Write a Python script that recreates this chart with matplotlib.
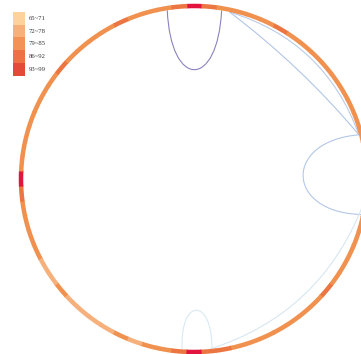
import numpy as np
import matplotlib
matplotlib.use("Agg")
import matplotlib.pyplot as plt
from matplotlib.patches import Wedge, Rectangle, PathPatch
from matplotlib.path import Path

# ---- data -------------------------------------------------------------
bin_labels = ["65~71", "72~78", "79~85", "86~92", "93~99"]
bin_edges = [65, 72, 79, 86, 93, 100]
legend_colors = ["#fdd29c", "#f8b07a", "#f39257", "#ee7145", "#e44a38"]
ring_colors = ["#fdd29c", "#f6b07c", "#f1914f", "#ec7642", "#e2153e"]

# ring values, one per 5-degree sector centred on 0, 5, 10 ... (clockwise from top)
ring_values = [
    96, 88, 84, 83, 85, 83, 86, 84, 83, 85, 84, 83,      # 0-55
    84, 85, 83, 84, 84, 85, 84, 83, 85, 84, 83, 84,      # 60-115
    85, 84, 86, 84, 83, 85, 84, 83, 85, 84, 86, 87,      # 120-175
    97, 86, 82, 80, 78, 79, 76, 78, 77, 76, 79, 77,      # 180-235
    78, 80, 82, 84, 85, 87, 96, 84, 82, 83, 85, 84,      # 240-295
    83, 84, 86, 84, 83, 85, 84, 86, 83, 84, 85, 87,      # 300-355
]

# links: (start angle, end angle, kind, bend, spread, colour)
link_start = [351.0, 12.0, 12.0, 75.0, 99.0, 184.0]
link_end = [9.3, 75.0, 75.0, 102.0, 174.5, 174.0]
link_kind = ["loop", "arc", "arc", "loop", "arc", "loop"]
link_bend = [80.0, 0.90, 1.10, 78.0, 1.067, 52.0]
link_spread = [9.0, 0.0, 0.0, 14.0, 0.0, 6.0]
link_color = ["#8a83bf", "#b3c5e6", "#b9cbe8", "#b4c7e6", "#d6e7ef", "#d9eaf1"]

# ---- geometry ---------------------------------------------------------
W, H = 361, 354
cx, cy, R, ring_w = 194.0, 179.0, 173.0, 4.5
center = np.array([cx, cy])


def pt(theta_deg, r):
    t = np.deg2rad(theta_deg)
    return np.array([cx + r * np.sin(t), cy - r * np.cos(t)])


fig = plt.figure(figsize=(W / 100, H / 100), dpi=100)
ax = fig.add_axes([0, 0, 1, 1])
ax.set_xlim(0, W)
ax.set_ylim(H, 0)
ax.set_aspect("equal")
ax.axis("off")

# links
for a0, a1, kind, bend, spread, col in zip(link_start, link_end, link_kind,
                                           link_bend, link_spread, link_color):
    p0 = pt(a0, R - ring_w / 2)
    p3 = pt(a1, R - ring_w / 2)
    if kind == "loop":
        n0 = (center - p0) / np.linalg.norm(center - p0)
        n3 = (center - p3) / np.linalg.norm(center - p3)
        u = (p0 - p3) / np.linalg.norm(p0 - p3)
        verts = [p0, p0 + bend * n0 + spread * u, p3 + bend * n3 - spread * u, p3]
        codes = [Path.MOVETO, Path.CURVE4, Path.CURVE4, Path.CURVE4]
    else:
        d = (a1 - a0) % 360
        c = pt(a0 + d / 2, bend * R)
        verts = [p0, c, p3]
        codes = [Path.MOVETO, Path.CURVE3, Path.CURVE3]
    ax.add_patch(PathPatch(Path(verts, codes), fill=False, edgecolor=col, lw=0.8, zorder=2))

# value ring
step = 360 / len(ring_values)
for i, v in enumerate(ring_values):
    k = np.searchsorted(bin_edges, v, side="right") - 1
    k = min(max(k, 0), len(ring_colors) - 1)
    a_start = i * step - step / 2
    t1 = a_start - 90
    t2 = a_start + step - 90 + 0.3
    ax.add_patch(Wedge((cx, cy), R + ring_w / 2, t1, t2, width=ring_w,
                       facecolor=ring_colors[k], edgecolor="none", zorder=3))

# legend
for j, (lab, col) in enumerate(zip(bin_labels, legend_colors)):
    y0 = 12 + j * 12.7
    ax.add_patch(Rectangle((13, y0), 12, 12.7, facecolor=col, edgecolor="none", zorder=4))
    ax.text(29, y0 + 6.5, lab, fontsize=4.8, family="Liberation Serif",
            color="#333333", va="center", ha="left", zorder=4)

fig.savefig("out.png", dpi=100)
